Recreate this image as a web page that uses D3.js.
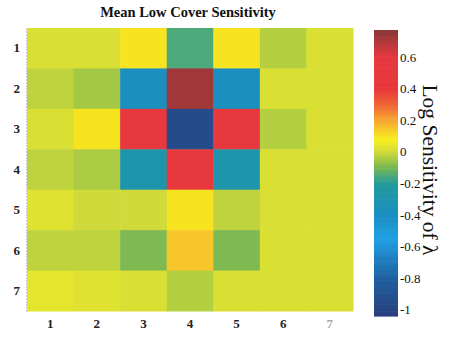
<!DOCTYPE html>
<html>
<head>
<meta charset="utf-8">
<script src="https://cdn.jsdelivr.net/npm/d3@7/dist/d3.min.js"></script>
<style>
  html, body { margin: 0; padding: 0; background: #fff; }
  svg { display: block; }
  text { font-family: "Liberation Serif", "DejaVu Serif", serif; }
</style>
</head>
<body>
<svg id="chart" width="451" height="337"></svg>
<script>
// Grid labels
const rowLabels = ["1", "2", "3", "4", "5", "6", "7"];
const colLabels = ["1", "2", "3", "4", "5", "6", "7"];

// Mean log sensitivity of lambda, one array per row (top to bottom)
const row1 = [0.02, 0.02, 0.10, -0.15, 0.10, -0.03, 0.02];
const row2 = [-0.02, -0.05, -0.38, 0.73, -0.38, 0.02, 0.02];
const row3 = [0.02, 0.10, 0.50, -0.95, 0.50, -0.03, 0.02];
const row4 = [-0.02, -0.04, -0.28, 0.50, -0.28, 0.02, 0.02];
const row5 = [0.03, 0.00, 0.00, 0.10, -0.02, 0.02, 0.02];
const row6 = [-0.02, -0.02, -0.09, 0.15, -0.09, 0.02, 0.02];
const row7 = [0.04, 0.03, 0.02, -0.03, 0.02, 0.02, 0.02];
const values = [row1, row2, row3, row4, row5, row6, row7];

// Colour bar ticks
const cbTicks = [0.6, 0.4, 0.2, 0, -0.2, -0.4, -0.6, -0.8, -1];
const cbDomain = [-1.04, 0.77];

// Colour map stops
const cmapStops = [-1.04, -0.8, -0.55, -0.4, -0.2, -0.08, 0, 0.08, 0.2, 0.3, 0.4, 0.6, 0.77];
const cmapColors = ["#2a3e7e", "#1e60a0", "#21a0e2", "#1a8ec2", "#239a9c", "#86bd4a",
                    "#d0da3a", "#f8ef1e", "#f6a832", "#f06434", "#e8383c", "#e6383e", "#8a3838"];

const color = d3.scaleLinear().domain(cmapStops).range(cmapColors)
  .interpolate(d3.interpolateRgb).clamp(true);

const svg = d3.select("#chart");

const x = d3.scaleBand().domain(colLabels).range([27, 353]);
const y = d3.scaleBand().domain(rowLabels).range([28, 311]);

// Cells
const cells = [];
values.forEach((r, i) => r.forEach((v, j) => cells.push({ row: rowLabels[i], col: colLabels[j], v })));
svg.append("g").selectAll("rect").data(cells).join("rect")
  .attr("x", d => x(d.col))
  .attr("y", d => y(d.row))
  .attr("width", x.bandwidth() + 0.5)
  .attr("height", y.bandwidth() + 0.5)
  .attr("fill", d => color(d.v));

// Title
svg.append("text")
  .attr("x", 188).attr("y", 17)
  .attr("text-anchor", "middle")
  .attr("font-weight", "bold")
  .attr("font-size", 14.5)
  .attr("fill", "#111")
  .text("Mean Low Cover Sensitivity");

// Row axis
const yAxis = svg.append("g").attr("transform", "translate(26,0)")
  .call(d3.axisLeft(y).tickSize(0).tickPadding(6));
yAxis.select(".domain").attr("stroke", "#999").attr("stroke-dasharray", "1,2");
yAxis.selectAll("text").attr("font-weight", "bold").attr("font-size", 13)
  .attr("font-family", "Liberation Serif, serif").attr("fill", "#222");

// Column axis
const xAxis = svg.append("g").attr("transform", "translate(0,312)")
  .call(d3.axisBottom(x).tickSize(0).tickPadding(7));
xAxis.select(".domain").remove();
xAxis.selectAll("text").attr("font-weight", "bold").attr("font-size", 13)
  .attr("font-family", "Liberation Serif, serif")
  .attr("fill", (d, i) => i === colLabels.length - 1 ? "#aaa" : "#222");

// Colour bar
const cbX = 374, cbW = 24;
const cbY = d3.scaleLinear().domain(cbDomain).range([316, 30]);
const nSteps = 120;
const stepVals = d3.range(nSteps).map(i => cbDomain[0] + (cbDomain[1] - cbDomain[0]) * i / nSteps);
const dv = (cbDomain[1] - cbDomain[0]) / nSteps;
svg.append("g").selectAll("rect").data(stepVals).join("rect")
  .attr("x", cbX)
  .attr("width", cbW)
  .attr("y", d => cbY(d + dv))
  .attr("height", d => cbY(d) - cbY(d + dv) + 0.6)
  .attr("fill", d => color(d + dv / 2));

// Tick labels use a plain hyphen for negatives
const cbFormat = d => {
  const s = d === 0 ? "0" : d === -1 ? "1" : d3.format(".1f")(Math.abs(d));
  return (d < 0 ? "-" : "") + s;
};
const cbAxis = svg.append("g").attr("transform", `translate(${cbX + cbW},0)`)
  .call(d3.axisRight(cbY).tickValues(cbTicks).tickSize(0).tickPadding(2).tickFormat(cbFormat));
cbAxis.select(".domain").remove();
cbAxis.selectAll("text").attr("font-size", 13)
  .attr("font-family", "Liberation Serif, serif").attr("fill", "#111");

// Colour bar label
svg.append("text")
  .attr("transform", "translate(423,170) rotate(90)")
  .attr("text-anchor", "middle")
  .attr("font-size", 21.5)
  .attr("fill", "#111")
  .text("Log Sensitivity of λ");
</script>
</body>
</html>
